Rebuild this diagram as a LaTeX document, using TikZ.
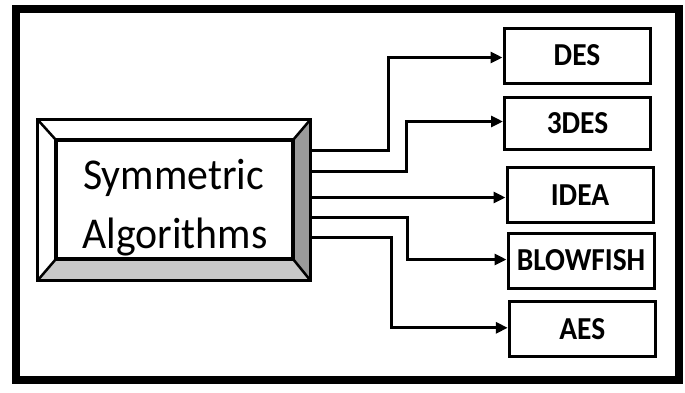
\documentclass[tikz,border=0pt]{standalone}
\usepackage{fontspec}
\setmainfont{Carlito}
\newfontfamily\titlefont[FakeStretch=0.95]{Carlito}
\newfontfamily\leaffont[FakeStretch=0.92]{Carlito}
\usetikzlibrary{arrows.meta,calc}
\definecolor{bevelside}{HTML}{9A9A9A}
\definecolor{bevelbottom}{HTML}{C8C8C8}
\tikzset{
  leafbox/.style={draw=black, line width=3pt, minimum width=146pt, minimum height=55pt,
    inner sep=0pt, font=\leaffont\bfseries\fontsize{32}{32}\selectfont},
  titletext/.style={anchor=base, inner sep=0pt, font=\titlefont\fontsize{44}{44}\selectfont},
  arr/.style={draw=black, line width=3pt, -{Triangle[length=12pt,width=11pt]}},
}
\begin{document}
\begin{tikzpicture}[x=1pt,y=-1pt]
\useasboundingbox (0,0) rectangle (685,392);
% outer frame
\draw[line width=8pt] (16,9) rectangle (678.5,379.5);

% bevelled frame of the root box
\node[minimum width=272pt, minimum height=160pt, inner sep=0pt] (symframe) at (174,200) {};
\node[minimum width=237pt, minimum height=119pt, inner sep=0pt] (sym) at (174.5,199.5) {};
\fill[white] (symframe.north west) -- (symframe.north east) -- (sym.north east) -- (sym.north west) -- cycle;
\fill[white] (symframe.north west) -- (sym.north west) -- (sym.south west) -- (symframe.south west) -- cycle;
\fill[bevelside] (symframe.north east) -- (symframe.south east) -- (sym.south east) -- (sym.north east) -- cycle;
\fill[bevelbottom] (symframe.south west) -- (sym.south west) -- (sym.south east) -- (symframe.south east) -- cycle;
\draw[line width=2.5pt] (symframe.north west) -- (sym.north west)
  (symframe.north east) -- (sym.north east)
  (symframe.south west) -- (sym.south west)
  (symframe.south east) -- (sym.south east);
\draw[line width=3pt] (symframe.south west) rectangle (symframe.north east);
\draw[line width=4pt] (sym.south west) rectangle (sym.north east);
% root label, two lines
\node[titletext] (symline1) at ($(sym.center)+(-1,-10)$) {Symmetric};
\node[titletext] (symline2) at ($(sym.center)+(0.5,49)$) {Algorithms};

% algorithm boxes
\node[leafbox] (des)  at (577,55.5) {DES};
\node[leafbox, minimum height=52pt] (tdes) at (577.5,123) {3DES};
\node[leafbox] (idea) at (580,195.2) {IDEA};
\node[leafbox] (bf)   at (581,260.5) {BLOWFISH};
\node[leafbox] (aes)  at (582.3,329.3) {AES};

% connectors
\coordinate (o1) at ($(symframe.east)+(0,-50)$);
\coordinate (o2) at ($(symframe.east)+(0,-29)$);
\coordinate (o3) at ($(symframe.east)+(0,-2.5)$);
\coordinate (o4) at ($(symframe.east)+(0,17)$);
\coordinate (o5) at ($(symframe.east)+(0,37.5)$);
\draw[arr] (o1) -- ++(78,0) |- ($(des.west)+(0,2)$);
\draw[arr] (o2) -- ++(96,0) |- ($(tdes.west)+(0,-1.5)$);
\draw[arr] (o3) -- (o3 -| idea.west);
\draw[arr] (o4) -- ++(97,0) |- ($(bf.west)+(0,-1)$);
\draw[arr] (o5) -- ++(81,0) |- ($(aes.west)+(0,-1.5)$);
\end{tikzpicture}
\end{document}
